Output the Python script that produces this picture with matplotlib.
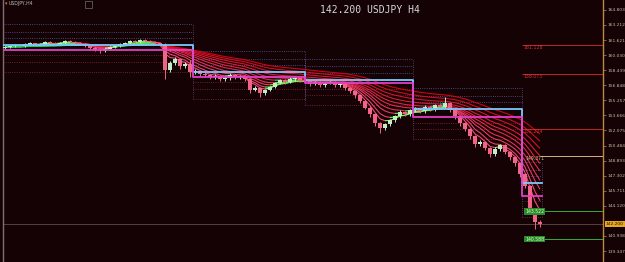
import pandas as pd
import matplotlib
matplotlib.use("Agg")
import matplotlib.pyplot as plt
from matplotlib.collections import LineCollection
from matplotlib.patches import Rectangle

BG = "#140204"

# USDJPY H4 candles, left to right
opens = [160.8, 160.9, 161.0, 161.1, 160.95, 161.2, 161.3, 161.15, 161.25, 161.4, 161.3, 161.2,
         161.35, 161.5, 161.4, 161.3, 161.2, 161.0, 160.8, 160.6, 160.5, 160.7, 160.9, 161.0,
         161.2, 161.35, 161.5, 161.4, 161.6, 161.5, 161.45, 161.3, 161.1, 158.5, 159.2, 159.6,
         158.9, 159.1, 158.2, 158.4, 158.0, 157.9, 157.7, 157.8, 157.5, 157.6, 157.9, 157.7,
         157.8, 157.5, 156.4, 156.6, 156.0, 156.3, 156.7, 157.1, 157.4, 157.2, 157.5, 157.6,
         157.4, 157.3, 157.0, 157.2, 156.9, 157.1, 157.2, 156.9, 157.0, 156.6, 156.2, 155.8,
         155.2, 154.5, 153.8, 152.9, 152.3, 152.8, 153.2, 153.6, 154.0, 153.8, 154.2, 154.4,
         154.1, 154.6, 154.3, 154.8, 154.6, 155.0, 154.2, 153.6, 152.9, 152.2, 151.5, 150.6,
         150.9, 150.2, 149.6, 150.1, 150.5, 149.8, 149.3, 148.6, 147.5, 146.2, 143.7, 142.4]
highs = [161.0, 161.1, 161.2, 161.2, 161.3, 161.4, 161.35, 161.35, 161.5, 161.5, 161.4, 161.45,
         161.6, 161.6, 161.5, 161.4, 161.3, 161.1, 160.9, 160.7, 160.8, 161.0, 161.1, 161.3,
         161.45, 161.6, 161.6, 161.75, 161.7, 161.6, 161.5, 161.4, 161.3, 159.4, 159.8, 159.7,
         159.3, 159.5, 158.6, 158.5, 158.2, 158.0, 158.0, 157.9, 157.8, 158.1, 158.0, 157.9,
         157.9, 157.6, 156.8, 156.7, 156.5, 156.8, 157.2, 157.5, 157.5, 157.7, 157.8, 157.7,
         157.5, 157.4, 157.3, 157.3, 157.2, 157.3, 157.3, 157.1, 157.1, 156.7, 156.3, 155.9,
         155.3, 154.7, 153.9, 153.0, 152.9, 153.3, 153.7, 154.2, 154.1, 154.3, 154.6, 154.5,
         154.8, 154.7, 154.9, 154.9, 155.6, 155.1, 154.3, 153.7, 153.0, 152.3, 151.6, 151.1,
         151.0, 150.3, 150.3, 150.7, 150.6, 149.9, 149.4, 148.7, 147.6, 146.3, 143.8, 142.6]
lows = [160.7, 160.8, 160.9, 160.85, 160.9, 161.1, 161.05, 161.05, 161.15, 161.2, 161.1, 161.1,
        161.25, 161.3, 161.2, 161.1, 160.9, 160.7, 160.5, 160.3, 160.4, 160.6, 160.8, 160.9,
        161.1, 161.25, 161.3, 161.3, 161.4, 161.35, 161.2, 161.0, 157.5, 158.3, 159.0, 158.6,
        158.7, 157.7, 158.0, 157.8, 157.7, 157.5, 157.5, 157.3, 157.3, 157.4, 157.5, 157.5,
        157.3, 156.0, 156.2, 155.6, 155.8, 156.2, 156.6, 157.0, 157.0, 157.1, 157.3, 157.2,
        157.1, 156.8, 156.9, 156.7, 156.7, 157.0, 156.7, 156.7, 156.4, 156.0, 155.5, 155.0,
        154.3, 153.5, 152.6, 151.8, 152.1, 152.6, 153.0, 153.4, 153.6, 153.6, 154.0, 153.9,
        153.9, 154.1, 154.1, 154.4, 154.4, 154.0, 153.3, 152.6, 152.0, 151.2, 150.3, 150.4,
        150.0, 149.3, 149.4, 149.9, 149.6, 149.0, 148.3, 147.2, 146.0, 143.3, 141.7, 141.9]
closes = [160.9, 161.0, 161.1, 160.95, 161.2, 161.3, 161.15, 161.25, 161.4, 161.3, 161.2, 161.35,
          161.5, 161.4, 161.3, 161.2, 161.0, 160.8, 160.6, 160.5, 160.7, 160.9, 161.0, 161.2,
          161.35, 161.5, 161.4, 161.6, 161.5, 161.45, 161.3, 161.1, 158.5, 159.2, 159.6, 158.9,
          159.1, 158.2, 158.4, 158.0, 157.9, 157.7, 157.8, 157.5, 157.6, 157.9, 157.7, 157.8,
          157.5, 156.4, 156.6, 156.0, 156.3, 156.7, 157.1, 157.4, 157.2, 157.5, 157.6, 157.4,
          157.3, 157.0, 157.2, 156.9, 157.1, 157.2, 156.9, 157.0, 156.6, 156.2, 155.8, 155.2,
          154.5, 153.8, 152.9, 152.3, 152.8, 153.2, 153.6, 154.0, 153.8, 154.2, 154.4, 154.1,
          154.6, 154.3, 154.8, 154.6, 155.0, 154.2, 153.6, 152.9, 152.2, 151.5, 150.6, 150.9,
          150.2, 149.6, 150.1, 150.5, 149.8, 149.3, 148.6, 147.5, 146.2, 143.7, 142.4, 142.2]

ema_spans = [4, 6, 9, 12, 16, 20, 25, 31, 38, 46]

# step channel (cyan upper / magenta lower) and its dotted boxes
step_edges = [-0.4, 37.6, 60.0, 81.6, 103.4, 107.4]
cyan_levels = [161.1, 158.25, 157.45, 154.35, 146.55]
magenta_levels = [160.6, 157.75, 157.1, 153.5, 145.2]
box_up = [0.7, 1.4, 2.2]
box_down = [0.6, 1.3, 2.3]

# horizontal levels on the right
level_values = [161.128, 158.073, 152.224, 149.371, 143.522, 140.588]
level_kinds = ["res", "res", "res", "mid", "sup", "sup"]

price_now = 142.200
axis_ticks = [164.803, 163.212, 161.621, 160.030, 158.439, 156.848, 155.257, 153.666,
              152.075, 150.484, 148.893, 147.302, 145.711, 144.120, 140.938, 139.347]

fig = plt.figure(figsize=(6.25, 2.62), dpi=100, facecolor=BG)
ax = fig.add_axes([3 / 625, 0, 600 / 625, 1], facecolor=BG)
ax.set_xlim(-0.4, 119.6)
ax.set_ylim(138.19, 165.85)

n = len(closes)
xs = list(range(n))

# dotted boxes
for k in range(len(cyan_levels)):
    x0, x1 = step_edges[k], step_edges[k + 1]
    for off in box_up:
        ax.hlines(cyan_levels[k] + off, x0, x1, colors="#5060a8", linestyles=":", lw=0.6, zorder=1)
    for off in box_down:
        ax.hlines(magenta_levels[k] - off, x0, x1, colors="#902838", linestyles=":", lw=0.6, zorder=1)
    top = cyan_levels[k] + box_up[-1]
    bot = magenta_levels[k] - box_down[-1]
    ax.vlines([x0, x1], bot, top, colors="#6a4a7a", linestyles=":", lw=0.6, zorder=1)

# MA ribbon, green when rising, red when falling
close_s = pd.Series(closes)
nl = len(ema_spans)
for j, span in enumerate(ema_spans):
    ema = close_s.ewm(span=span, adjust=False).mean().values
    t = j / (nl - 1)
    red = (1.0 - 0.15 * t, 0.30 - 0.28 * t, 0.50 - 0.42 * t, 0.95)
    green = (0.55 - 0.5 * t, 1.0 - 0.15 * t, 0.35, 0.95)
    segs = [[(i, ema[i]), (i + 1, ema[i + 1])] for i in range(n - 1)]
    cols = [green if ema[i + 1] >= ema[i] else red for i in range(n - 1)]
    ax.add_collection(LineCollection(segs, colors=cols, lw=0.8, zorder=2))

# candles
for i in xs:
    up = closes[i] >= opens[i]
    c = "#c0ecc8" if up else "#f06488"
    ax.vlines(i, lows[i], highs[i], colors=c, lw=0.7, zorder=3)
    lo = min(opens[i], closes[i])
    h = max(abs(closes[i] - opens[i]), 0.1)
    ax.bar(i, h, bottom=lo, width=0.7, color=c, lw=0, zorder=3)

# step lines
ax.step(step_edges, cyan_levels + [cyan_levels[-1]], where="post", color="#7cc8ff", lw=1.3, zorder=4)
ax.step(step_edges, magenta_levels + [magenta_levels[-1]], where="post", color="#e040c8", lw=1.3, zorder=4)

# right-side levels
for v, kind in zip(level_values, level_kinds):
    if kind == "res":
        ax.hlines(v, 103.4, 119.6, colors="#c02828", lw=0.7, zorder=2)
        ax.text(103.6, v - 0.3, f"{v:.3f}", color="#e03030", fontsize=3.3, va="center", zorder=5)
    elif kind == "mid":
        ax.hlines(v, 107, 119.6, colors="#d8b080", lw=0.7, zorder=2)
        ax.text(104.0, v - 0.3, f"{v:.3f}", color="#e0c090", fontsize=3.3, va="center", zorder=5)
    else:
        ax.hlines(v, 107, 119.6, colors="#30b030", lw=0.7, zorder=2)
        ax.text(104.0, v, f"{v:.3f}", color="#d8ffd0", fontsize=3.3, va="center", zorder=5,
                bbox=dict(boxstyle="square,pad=0.15", fc="#2a8a2a", ec="none"))

# current price line
ax.axhline(price_now, color="#5a4040", lw=0.7, zorder=1)

# axes styling
for s in ["top", "bottom"]:
    ax.spines[s].set_visible(False)
ax.spines["left"].set_color("#807070")
ax.spines["right"].set_color("#c08848")
ax.spines["left"].set_linewidth(1.0)
ax.spines["right"].set_linewidth(1.0)
ax.set_xticks([])
ax.yaxis.tick_right()
ax.set_yticks(axis_ticks)
ax.set_yticklabels([f"{t:.3f}" for t in axis_ticks])
ax.tick_params(axis="y", colors="#c08848", labelcolor="#c8b8a8", labelsize=3.2, length=2, width=0.5, pad=1.5)

ax.annotate(f"{price_now:.3f}", xy=(1.0, price_now), xycoords=("axes fraction", "data"),
            xytext=(2, 0), textcoords="offset points", fontsize=3.2, color="#101010",
            va="center", ha="left", annotation_clip=False,
            bbox=dict(boxstyle="square,pad=0.2", fc="#e8a820", ec="none"))

fig.text(370 / 625, 1 - 10 / 262, "142.200 USDJPY H4", ha="center", va="center",
         family="DejaVu Sans Mono", fontsize=7, color="#d8d8d8")
fig.text(5 / 625, 1 - 4 / 262, "\u25be", ha="left", va="center", fontsize=3.5, color="#e08040")
fig.text(9 / 625, 1 - 4 / 262, "USDJPY,H4", ha="left", va="center", fontsize=3.3, color="#c0c0c0")
fig.patches.append(Rectangle((85 / 625, 1 - 8 / 262), 7 / 625, 7 / 262, transform=fig.transFigure,
                             fill=False, ec="#707070", lw=0.5))

fig.savefig("out.png", dpi=100, facecolor=BG)
